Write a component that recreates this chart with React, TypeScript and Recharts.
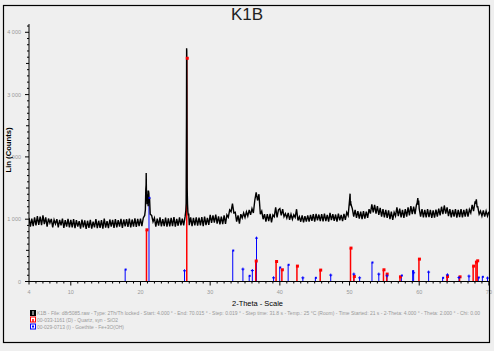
import React from 'react';
import { ComposedChart, Line, Scatter, XAxis, YAxis, ReferenceLine } from 'recharts';

// Scan: 2-Theta from 4.0 in 0.2 degree steps, counts
const THETA_START = 4;
const THETA_STEP = 0.2;
const THETA_END = 70.015;
const Y_MAX = 4133;

const scanCounts = [
  1020, 880, 1010, 890, 1030, 900, 1050, 910, 1040, 905,
  1060, 920, 1030, 880, 1010, 940, 1005, 870, 990, 925,
  1000, 870, 990, 900, 1010, 860, 985, 880, 1005, 870,
  990, 870, 1000, 855, 985, 880, 970, 850, 995, 870,
  980, 845, 975, 860, 990, 850, 960, 870, 1000, 855,
  975, 860, 985, 850, 1010, 865, 970, 855, 995, 880,
  990, 860, 1000, 870, 985, 880, 1005, 860, 995, 885,
  1000, 875, 1010, 870, 995, 880, 1015, 875, 1005, 890,
  1010, 890, 1020, 1060, 1550, 1300, 1420, 1080, 1060, 960,
  1020, 880, 1010, 895, 1030, 885, 1000, 890, 1025, 880,
  1015, 885, 1020, 890, 1035, 880, 1005, 895, 1030, 900,
  1010, 900, 1040, 2600, 1120, 905, 1030, 890, 1020, 900,
  1030, 895, 1025, 900, 1035, 890, 1040, 905, 1020, 910,
  1070, 940, 1060, 945, 1075, 930, 1045, 915, 1040, 920,
  1060, 925, 1070, 1030, 1150, 1120, 1250, 1100, 1110, 960,
  1060, 930, 1080, 1020, 1100, 1030, 1120, 1050, 1150, 1070,
  1170, 1100, 1300, 1430, 1300, 1400, 1080, 1130, 1000, 1080,
  960, 1080, 970, 1085, 950, 1070, 1040, 1190, 1030, 1150,
  1170, 1060, 1160, 1040, 1090, 1020, 1100, 990, 1080, 1000,
  1070, 1030, 1160, 980, 1040, 960, 1060, 950, 1050, 960,
  1060, 960, 1070, 975, 1080, 960, 1085, 980, 1075, 970,
  1080, 965, 1090, 970, 1070, 960, 1100, 985, 1080, 975,
  1075, 960, 1090, 980, 1070, 970, 1085, 990, 1110, 1060,
  1300, 1240, 1170, 1040, 1150, 1020, 1130, 1010, 1120, 1000,
  1130, 1010, 1120, 1020, 1160, 1090, 1240, 1110, 1230, 1090,
  1210, 1070, 1180, 1040, 1160, 1030, 1150, 1020, 1140, 1000,
  1120, 990, 1110, 1050, 1190, 1050, 1170, 1030, 1150, 1020,
  1160, 1040, 1190, 1060, 1210, 1080, 1200, 1080, 1230, 1340,
  1170, 1040, 1160, 1030, 1150, 1030, 1160, 1035, 1150, 1020,
  1140, 1025, 1155, 1040, 1170, 1060, 1200, 1080, 1220, 1090,
  1190, 1050, 1160, 1030, 1150, 1040, 1160, 1025, 1150, 1035,
  1160, 1030, 1150, 1040, 1165, 1040, 1155, 1100, 1230, 1130,
  1270, 1320, 1200, 1080, 1130, 1050, 1140, 1040, 1130, 1050, 1120,
];

// extra points read around the sharp peaks
const peakDetail: [number, number][] = [
  [20.7, 1150], [20.76, 1480], [20.82, 1740], [20.86, 1380], [20.9, 1460], [20.94, 1240],
  [21.06, 1400], [21.1, 1210], [21.14, 1460], [21.26, 1260], [21.3, 1340],
  [26.5, 1130], [26.55, 1260], [26.62, 3745], [26.64, 3700], [26.66, 3150], [26.7, 1500],
  [26.75, 1240], [26.86, 1060], [26.92, 1090],
  [50.08, 1410], [50.12, 1220], [50.16, 1290],
  [59.7, 1260], [59.86, 1230], [59.92, 1300],
  [68.1, 1260], [68.3, 1200],
];

// 00-033-1161 Quartz: [2-theta, stick height]
const quartzSticks: [number, number][] = [
  [20.86, 829], [26.64, 3583], [36.54, 329], [39.46, 321], [40.29, 188], [42.45, 247],
  [45.79, 183], [50.14, 536], [50.62, 80], [54.87, 188], [55.33, 119], [57.24, 75],
  [59.96, 359], [63.99, 80], [65.79, 75], [67.74, 247], [68.14, 311], [68.32, 332],
];

// 00-029-0713 Goethite: [2-theta, stick height, marker]
const goethiteSticks: [number, number, string][] = [
  [17.8, 192, 'sq'], [21.22, 1342, 'sq'], [26.32, 172, 'plus'], [33.24, 497, 'sq'],
  [34.7, 199, 'plus'], [35.6, 91, 'sq'], [36.05, 176, 'plus'], [36.65, 696, 'plus'],
  [39.1, 59, 'plus'], [39.98, 225, 'sq'], [41.19, 268, 'sq'], [43.3, 59, 'plus'],
  [45.1, 59, 'sq'], [47.3, 103, 'plus'], [50.62, 119, 'plus'], [51.45, 59, 'plus'],
  [53.22, 305, 'sq'], [54.2, 119, 'plus'], [55.38, 91, 'plus'], [57.44, 96, 'sq'],
  [59.06, 167, 'sq'], [59.2, 140, 'plus'], [61.35, 151, 'plus'], [63.36, 59, 'sq'],
  [64.05, 107, 'plus'], [65.71, 64, 'plus'], [67.14, 87, 'plus'], [68.48, 64, 'sq'],
  [69.06, 75, 'sq'], [69.8, 55, 'plus'],
];

const xLabels = [4, 10, 20, 30, 40, 50, 60, 70];
const yLabels: Record<number, string> = { 0: '0', 1000: '1 000', 2000: '2 000', 3000: '3 000', 4000: '4 000' };

const xTicks: number[] = [];
for (let v = 4; v <= 70; v++) xTicks.push(v);
const yTicks: number[] = [];
for (let v = 0; v <= 4100; v += 100) yTicks.push(v);

const legendLines = [
  'K1B - File: d8r5085.raw - Type: 2Th/Th locked - Start: 4.000 \u00b0 - End: 70.015 \u00b0 - Step: 0.019 \u00b0 - Step time: 31.8 s - Temp.: 25 \u00b0C (Room) - Time Started: 21 s - 2-Theta: 4.000 \u00b0 - Theta: 2.000 \u00b0 - Chi: 0.00',
  '00-033-1161 (D) - Quartz, syn - SiO2',
  '00-029-0713 (I) - Goethite - Fe+3O(OH)',
];
const legendWidths = [443, 81, 87];

const scanData = scanCounts
  .map((c, i) => ({ t: +(THETA_START + i * THETA_STEP).toFixed(3), c }))
  .concat(peakDetail.map(([t, c]) => ({ t, c })))
  .sort((a, b) => a.t - b.t);

const quartzMarkers = quartzSticks.map(([t, h]) => ({ t, c: h }));
const goethiteSq = goethiteSticks.filter((g) => g[2] === 'sq').map(([t, h]) => ({ t, c: h }));
const goethitePlus = goethiteSticks.filter((g) => g[2] === 'plus').map(([t, h]) => ({ t, c: h }));

const FONT = '"Liberation Sans", Arial, sans-serif';

const XTick = (props: any) => {
  const { x, y, payload } = props;
  const v = payload.value;
  const len = v % 10 === 0 ? 4 : v === 4 ? 3 : 2;
  return (
    <g>
      <line x1={x} x2={x} y1={y} y2={y + len} stroke="#000" strokeWidth={1} />
      {xLabels.includes(v) && (
        <text x={x} y={y + 12} textAnchor="middle" fontSize={5.5} fontFamily={FONT} fill="#999">
          {v}
        </text>
      )}
    </g>
  );
};

const YTick = (props: any) => {
  const { x, y, payload } = props;
  const v = payload.value;
  const len = v % 1000 === 0 ? 4 : v % 500 === 0 ? 3 : 2;
  return (
    <g>
      <line x1={x - len} x2={x} y1={y} y2={y} stroke="#000" strokeWidth={1} />
      {yLabels[v] !== undefined && (
        <text x={x - 8} y={y + 2} textAnchor="end" fontSize={5.5} fontFamily={FONT} fill="#999">
          {yLabels[v]}
        </text>
      )}
    </g>
  );
};

const RedSquare = (p: any) => <rect x={p.cx - 1} y={p.cy - 1.5} width={3} height={3} fill="#ff0000" />;
const BlueSquare = (p: any) => <rect x={p.cx - 0.5} y={p.cy - 1} width={2} height={2} fill="#0000ff" />;
const BluePlus = (p: any) => (
  <g stroke="#0000ff" strokeWidth={1}>
    <line x1={p.cx - 1.5} x2={p.cx + 1.5} y1={p.cy} y2={p.cy} />
    <line x1={p.cx} x2={p.cx} y1={p.cy - 1.5} y2={p.cy + 1.5} />
  </g>
);

export default function App() {
  return (
    <div style={{ position: 'absolute', left: 0, top: 0, width: 494, height: 351, background: '#efefef', overflow: 'hidden' }}>
      <ComposedChart width={494} height={351} data={scanData} margin={{ top: 24, right: 5, bottom: 49.5, left: 0 }}>
        <XAxis
          dataKey="t"
          type="number"
          domain={[THETA_START, THETA_END]}
          allowDataOverflow
          ticks={xTicks}
          interval={0}
          tick={(p: any) => <XTick {...p} />}
          tickLine={false}
          tickSize={0}
          tickMargin={0}
          axisLine={{ stroke: '#000' }}
          height={20}
        />
        <YAxis
          type="number"
          domain={[0, Y_MAX]}
          allowDataOverflow
          ticks={yTicks}
          interval={0}
          tick={(p: any) => <YTick {...p} />}
          tickLine={false}
          tickSize={0}
          tickMargin={0}
          axisLine={{ stroke: '#000' }}
          width={29}
        />
        {goethiteSticks.map(([t, h]) => (
          <ReferenceLine key={'g' + t} segment={[{ x: t, y: 0 }, { x: t, y: h }]} stroke="#0000ff" strokeWidth={1} zIndex={350} />
        ))}
        {quartzSticks.map(([t, h]) => (
          <ReferenceLine key={'q' + t} segment={[{ x: t, y: 0 }, { x: t, y: h }]} stroke="#ff0000" strokeWidth={1.5} zIndex={350} />
        ))}
        <Line
          dataKey="c"
          type="linear"
          stroke="#000"
          strokeWidth={1.4}
          dot={false}
          activeDot={false}
          isAnimationActive={false}
        />
        <Scatter data={quartzMarkers} dataKey="c" shape={(p: any) => <RedSquare {...p} />} isAnimationActive={false} />
        <Scatter data={goethiteSq} dataKey="c" shape={(p: any) => <BlueSquare {...p} />} isAnimationActive={false} />
        <Scatter data={goethitePlus} dataKey="c" shape={(p: any) => <BluePlus {...p} />} isAnimationActive={false} />
      </ComposedChart>
      <svg width={494} height={351} style={{ position: 'absolute', left: 0, top: 0, pointerEvents: 'none' }}>
        <rect x={3.5} y={5.5} width={486} height={337} fill="none" stroke="#000" strokeWidth={1.2} />
        <text x={247} y={20} textAnchor="middle" fontSize={17} fontFamily={FONT} fill="#222">K1B</text>
        <text
          transform="translate(11,150) rotate(-90)"
          textAnchor="middle"
          fontSize={8}
          fontFamily={FONT}
          fontWeight="bold"
          fill="#000"
          textLength={45}
          lengthAdjust="spacingAndGlyphs"
        >
          Lin (Counts)
        </text>
        <text x={232} y={306} fontSize={8} fontFamily={FONT} fill="#000" textLength={51} lengthAdjust="spacingAndGlyphs">
          2-Theta - Scale
        </text>
        <rect x={30} y={310} width={6} height={6} fill="#000" />
        <line x1={33} x2={33} y1={311} y2={315} stroke="#fff" strokeWidth={1} />
        <rect x={30.5} y={317} width={5} height={5} fill="#fff" stroke="#ff0000" strokeWidth={1} />
        <line x1={33} x2={33} y1={319} y2={322} stroke="#ff0000" strokeWidth={1.5} />
        <rect x={30.5} y={324} width={5} height={5} fill="#fff" stroke="#0000ff" strokeWidth={1} />
        <rect x={32} y={325.5} width={2} height={2} fill="#0000ff" />
        {legendLines.map((txt, i) => (
          <text
            key={i}
            x={37}
            y={314.5 + i * 7}
            fontSize={4.5}
            fontFamily={FONT}
            fill="#999"
            textLength={legendWidths[i]}
            lengthAdjust="spacingAndGlyphs"
          >
            {txt}
          </text>
        ))}
      </svg>
    </div>
  );
}
